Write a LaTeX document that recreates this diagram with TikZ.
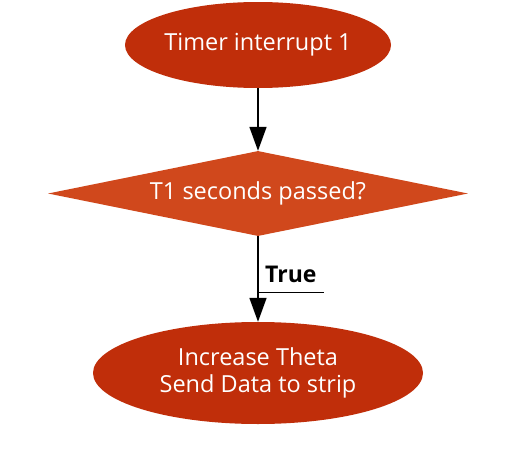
\documentclass[tikz,border=0pt]{standalone}
\usepackage{fontspec}
\setmainfont{Open Sans}
\usetikzlibrary{shapes.geometric,arrows.meta}
\definecolor{ellred}{RGB}{192,46,10}
\definecolor{diared}{RGB}{208,72,28}
\tikzset{
  term/.style={ellipse, fill=ellred, text=white, font=\fontsize{23.5}{27}\selectfont, inner sep=0pt, align=center},
  decide/.style={diamond, shape aspect=5, fill=diared, text=white, font=\fontsize{23.5}{27}\selectfont, inner sep=0pt},
  flow/.style={-{Triangle[length=24pt,width=17pt]}, line width=1.6pt},
}
\begin{document}
\begin{tikzpicture}[x=1pt,y=-1pt]
\useasboundingbox (0,0) rectangle (520,450);
\node[term, minimum width=266pt, minimum height=86pt] (t) at (258,45) {Timer interrupt 1};
\node[decide, minimum width=420pt, minimum height=85pt] (d) at (258,193.5) {T1 seconds passed?};
\node[term, minimum width=330pt, minimum height=102pt] (s) at (258,373) {Increase Theta\\Send Data to strip};
\draw[flow] (t) -- (d);
\draw[flow] (d) -- (s);
\node[font=\fontsize{23}{27}\selectfont\bfseries, anchor=base west, inner sep=0pt] (lab) at (265,282) {True};
\coordinate (u1) at (258,292.5);
\coordinate (u2) at (324,292.5);
\draw[line width=1.6pt] (u1) -- (u2);
\end{tikzpicture}
\end{document}
